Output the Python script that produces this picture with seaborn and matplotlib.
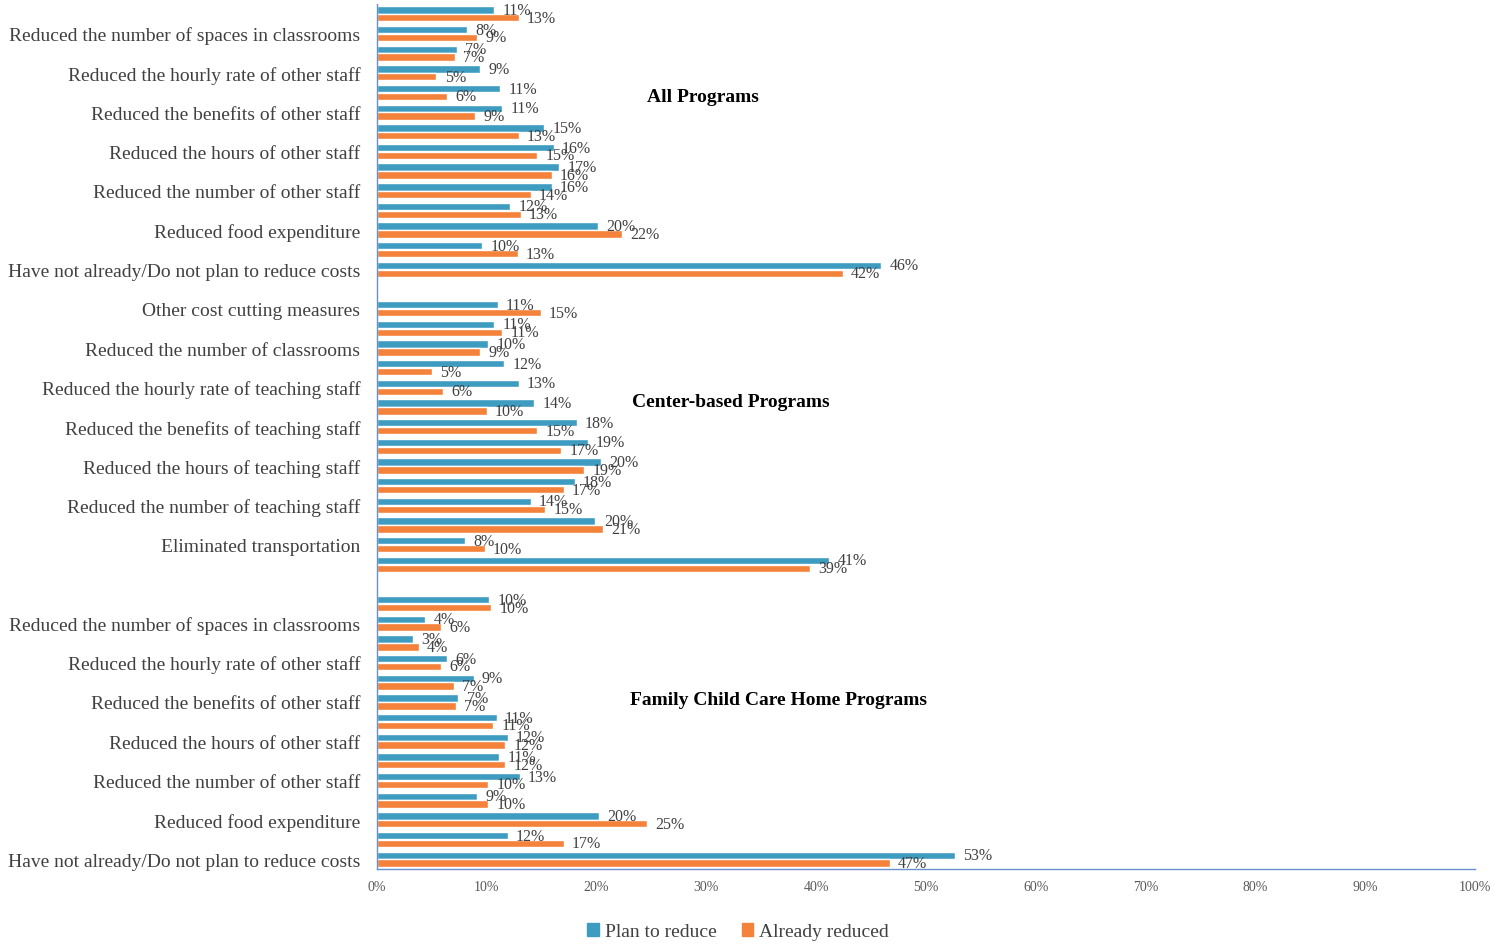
import matplotlib.pyplot as plt
import seaborn as sns
import pandas as pd
from matplotlib.patches import Patch

categories = [
    "Other cost cutting measures",
    "Reduced the number of spaces in classrooms",
    "Reduced the number of classrooms",
    "Reduced the hourly rate of other staff",
    "Reduced the hourly rate of teaching staff",
    "Reduced the benefits of other staff",
    "Reduced the benefits of teaching staff",
    "Reduced the hours of other staff",
    "Reduced the hours of teaching staff",
    "Reduced the number of other staff",
    "Reduced the number of teaching staff",
    "Reduced food expenditure",
    "Eliminated transportation",
    "Have not already/Do not plan to reduce costs",
]
sections = ["All Programs", "Center-based Programs", "Family Child Care Home Programs"]
series = ["Plan to reduce", "Already reduced"]

all_plan = [10.7, 8.2, 7.3, 9.4, 11.2, 11.4, 15.2, 16.1, 16.6, 15.9, 12.1, 20.1, 9.6, 45.9]
all_already = [12.9, 9.1, 7.1, 5.4, 6.4, 8.9, 12.9, 14.6, 15.9, 14.0, 13.1, 22.3, 12.8, 42.4]
center_plan = [11.0, 10.7, 10.1, 11.6, 12.9, 14.3, 18.2, 19.2, 20.4, 18.0, 14.0, 19.9, 8.0, 41.2]
center_already = [14.9, 11.4, 9.4, 5.0, 6.0, 10.0, 14.6, 16.8, 18.9, 17.0, 15.3, 20.6, 9.8, 39.4]
fcc_plan = [10.2, 4.4, 3.3, 6.4, 8.8, 7.4, 10.9, 11.9, 11.1, 13.0, 9.1, 20.2, 11.9, 52.6]
fcc_already = [10.4, 5.8, 3.8, 5.8, 7.0, 7.2, 10.6, 11.7, 11.7, 10.1, 10.1, 24.6, 17.0, 46.7]

plan = dict(zip(sections, [all_plan, center_plan, fcc_plan]))
already = dict(zip(sections, [all_already, center_already, fcc_already]))

records = []
order = []
for i, sec in enumerate(sections):
    if i > 0:
        order.append(f"gap{i}")
    for j, cat in enumerate(categories):
        key = f"{sec}|{cat}"
        order.append(key)
        records.append({"row": key, "series": series[0], "value": plan[sec][j]})
        records.append({"row": key, "series": series[1], "value": already[sec][j]})
df = pd.DataFrame(records)

sns.set_theme(style="white")
plt.rcParams["font.family"] = ["Liberation Serif", "DejaVu Serif"]

blue = "#3E9CC1"
orange = "#F5823A"
text_col = "#404040"

fig = plt.figure(figsize=(15.09, 9.45), dpi=100)
ax = fig.add_axes([0.2498, 0.0794, 0.7277, 0.9153])

sns.barplot(data=df, y="row", x="value", hue="series", order=order,
            hue_order=series, palette=[blue, orange], orient="h",
            width=0.8, gap=0.06, saturation=1, errorbar=None, ax=ax)

for c in ax.containers:
    ax.bar_label(c, fmt="{:.0f}%", padding=6, fontsize=11.5, color=text_col)

ax.set_xlim(0, 100)
ax.set_ylim(len(order) - 0.5, -0.5)
ax.set_xticks(range(0, 101, 10))
ax.set_xticklabels([f"{t}%" for t in range(0, 101, 10)])
ticks = list(range(1, len(order), 2))
ax.set_yticks(ticks)
ax.set_yticklabels([order[k].split("|")[1] if "|" in order[k] else "" for k in ticks])
ax.tick_params(axis="y", length=0, pad=12, labelsize=14, labelcolor=text_col)
ax.tick_params(axis="x", length=0, pad=8, labelsize=10, labelcolor="#595959")
ax.set_xlabel("")
ax.set_ylabel("")

ax.spines[["top", "right"]].set_visible(False)
for s in ["left", "bottom"]:
    ax.spines[s].set_color("#6A8FCF")
    ax.spines[s].set_linewidth(1)

title_pos = [(29.7, 4.2), (32.2, 19.7), (36.6, 34.9)]
for sec, (tx, ty) in zip(sections, title_pos):
    ax.text(tx, ty, sec, ha="center", va="center", fontsize=14,
            fontweight="bold", color="black")

ax.get_legend().remove()
handles = [Patch(color=blue), Patch(color=orange)]
fig.legend(handles, series, loc="center", bbox_to_anchor=(0.489, 0.013),
           ncol=2, frameon=False, fontsize=14, handlelength=0.6,
           handleheight=0.6, handletextpad=0.3, columnspacing=1.3,
           labelcolor=text_col)

fig.savefig("out.png", dpi=100)
